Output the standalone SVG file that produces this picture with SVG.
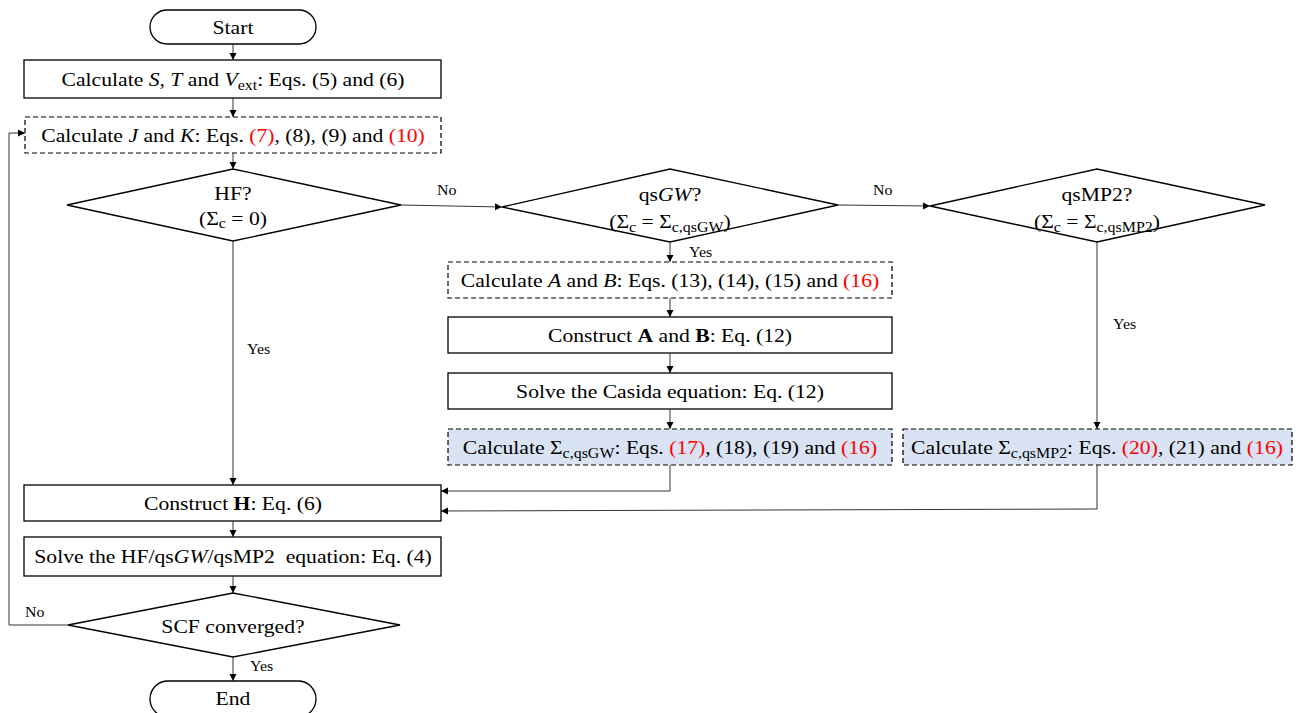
<svg xmlns="http://www.w3.org/2000/svg" width="1296" height="713" viewBox="0 0 1296 713">
<style>
.s{fill:#fff;stroke:#000;stroke-width:1.3}
.d{fill:#fff;stroke:#000;stroke-width:1.2;stroke-dasharray:5 3}
.db{fill:#dae3f3;stroke:#000;stroke-width:1.2;stroke-dasharray:5 3}
.t{font-family:"Liberation Serif","Times New Roman",serif;font-size:19px;fill:#000;text-anchor:middle}
.l{font-family:"Liberation Serif","Times New Roman",serif;font-size:14px;fill:#000}
.r{fill:#ff0000}
.c{fill:none;stroke:#333;stroke-width:1}
</style>
<defs>
<marker id="a" markerWidth="8" markerHeight="8" refX="7" refY="4" orient="auto" markerUnits="userSpaceOnUse">
<path d="M0,0.5 L7,4 L0,7.5 Z" fill="#000"/>
</marker>
</defs>
<g id="start"><rect class="s" x="150" y="10" width="166" height="34" rx="17"/><text class="t" transform="translate(233,34) scale(1.14,1)">Start</text></g>
<g id="calcST"><rect class="s" x="24" y="60" width="417" height="38"/><text class="t" transform="translate(233,86) scale(1.14,1)">Calculate <tspan font-style="italic">S</tspan>, <tspan font-style="italic">T</tspan> and <tspan font-style="italic">V</tspan><tspan font-size="14" dy="4">ext</tspan><tspan dy="-4">: Eqs. (5) and (6)</tspan></text></g>
<g id="calcJK"><rect class="d" x="25" y="117" width="416" height="36"/><text class="t" transform="translate(233,142) scale(1.14,1)">Calculate <tspan font-style="italic">J</tspan> and <tspan font-style="italic">K</tspan>: Eqs. <tspan class="r">(7)</tspan>, (8), (9) and <tspan class="r">(10)</tspan></text></g>
<g id="hf"><polygon class="s" points="67,205 233,169 401,205 233,241"/><text class="t" transform="translate(233,200) scale(1.14,1)">HF?</text><text class="t" transform="translate(233,225) scale(1.14,1)">(Σ<tspan font-size="14" dy="3">c</tspan><tspan dy="-3"> = 0)</tspan></text></g>
<g id="qsgw"><polygon class="s" points="502,207 670,169 838,205 670,242"/><text class="t" transform="translate(670,201) scale(1.14,1)">qs<tspan font-style="italic">GW</tspan>?</text><text class="t" transform="translate(670,228) scale(1.14,1)">(Σ<tspan font-size="14" dy="4">c</tspan><tspan dy="-4"> = Σ</tspan><tspan font-size="14" dy="4">c,qsGW</tspan><tspan dy="-4">)</tspan></text></g>
<g id="qsmp2"><polygon class="s" points="930,206 1097,169 1265,205 1097,242"/><text class="t" transform="translate(1097,201) scale(1.14,1)">qsMP2?</text><text class="t" transform="translate(1097,228) scale(1.14,1)">(Σ<tspan font-size="14" dy="4">c</tspan><tspan dy="-4"> = Σ</tspan><tspan font-size="14" dy="4">c,qsMP2</tspan><tspan dy="-4">)</tspan></text></g>
<g id="calcAB"><rect class="d" x="448" y="262" width="444" height="36"/><text class="t" transform="translate(670,287) scale(1.14,1)">Calculate <tspan font-style="italic">A</tspan> and <tspan font-style="italic">B</tspan>: Eqs. (13), (14), (15) and <tspan class="r">(16)</tspan></text></g>
<g id="constAB"><rect class="s" x="448" y="317" width="444" height="36"/><text class="t" transform="translate(670,342) scale(1.14,1)">Construct <tspan font-weight="bold">A</tspan> and <tspan font-weight="bold">B</tspan>: Eq. (12)</text></g>
<g id="casida"><rect class="s" x="448" y="373" width="444" height="36"/><text class="t" transform="translate(670,398) scale(1.14,1)">Solve the Casida equation: Eq. (12)</text></g>
<g id="sigGW"><rect class="db" x="448" y="429" width="444" height="36"/><text class="t" transform="translate(670,454) scale(1.14,1)">Calculate Σ<tspan font-size="14" dy="4">c,qsGW</tspan><tspan dy="-4">: Eqs. </tspan><tspan class="r">(17)</tspan>, (18), (19) and <tspan class="r">(16)</tspan></text></g>
<g id="sigMP2"><rect class="db" x="903" y="429" width="389" height="36"/><text class="t" transform="translate(1097,454) scale(1.14,1)">Calculate Σ<tspan font-size="14" dy="4">c,qsMP2</tspan><tspan dy="-4">: Eqs. </tspan><tspan class="r">(20)</tspan>, (21) and <tspan class="r">(16)</tspan></text></g>
<g id="constH"><rect class="s" x="24" y="485" width="417" height="36"/><text class="t" transform="translate(233,510) scale(1.14,1)">Construct <tspan font-weight="bold">H</tspan>: Eq. (6)</text></g>
<g id="solve"><rect class="s" x="24" y="537" width="417" height="39"/><text class="t" transform="translate(233,563) scale(1.14,1)">Solve the HF/qs<tspan font-style="italic">GW</tspan>/qsMP2&#160; equation: Eq. (4)</text></g>
<g id="scf"><polygon class="s" points="68,625 233,593 400,625 233,657"/><text class="t" transform="translate(233,633) scale(1.14,1)">SCF converged?</text></g>
<g id="end"><rect class="s" x="150" y="681" width="166" height="36" rx="18"/><text class="t" transform="translate(233,705) scale(1.14,1)">End</text></g>
<g id="connectors">
<line class="c" x1="233" y1="44" x2="233" y2="60" marker-end="url(#a)"/>
<line class="c" x1="233" y1="98" x2="233" y2="117" marker-end="url(#a)"/>
<line class="c" x1="233" y1="153" x2="233" y2="169" marker-end="url(#a)"/>
<polyline class="c" points="401,205 502,207" marker-end="url(#a)"/>
<polyline class="c" points="838,205 930,206" marker-end="url(#a)"/>
<line class="c" x1="670" y1="242" x2="670" y2="262" marker-end="url(#a)"/>
<line class="c" x1="670" y1="298" x2="670" y2="317" marker-end="url(#a)"/>
<line class="c" x1="670" y1="353" x2="670" y2="373" marker-end="url(#a)"/>
<line class="c" x1="670" y1="409" x2="670" y2="429" marker-end="url(#a)"/>
<line class="c" x1="1097" y1="242" x2="1097" y2="429" marker-end="url(#a)"/>
<line class="c" x1="233" y1="241" x2="233" y2="485" marker-end="url(#a)"/>
<polyline class="c" points="670,465 670,491 441,491" marker-end="url(#a)"/>
<polyline class="c" points="1097,465 1097,509 441,511" marker-end="url(#a)"/>
<line class="c" x1="233" y1="521" x2="233" y2="537" marker-end="url(#a)"/>
<line class="c" x1="233" y1="576" x2="233" y2="593" marker-end="url(#a)"/>
<line class="c" x1="233" y1="657" x2="233" y2="681" marker-end="url(#a)"/>
<polyline class="c" points="68,625 9,625 9,133 25,133" marker-end="url(#a)"/>
<text class="l" transform="translate(437,195) scale(1.14,1)">No</text>
<text class="l" transform="translate(873,195) scale(1.14,1)">No</text>
<text class="l" transform="translate(689,257) scale(1.14,1)">Yes</text>
<text class="l" transform="translate(1113,329) scale(1.14,1)">Yes</text>
<text class="l" transform="translate(247,354) scale(1.14,1)">Yes</text>
<text class="l" transform="translate(25,617) scale(1.14,1)">No</text>
<text class="l" transform="translate(250,671) scale(1.14,1)">Yes</text>
</g>
</svg>
